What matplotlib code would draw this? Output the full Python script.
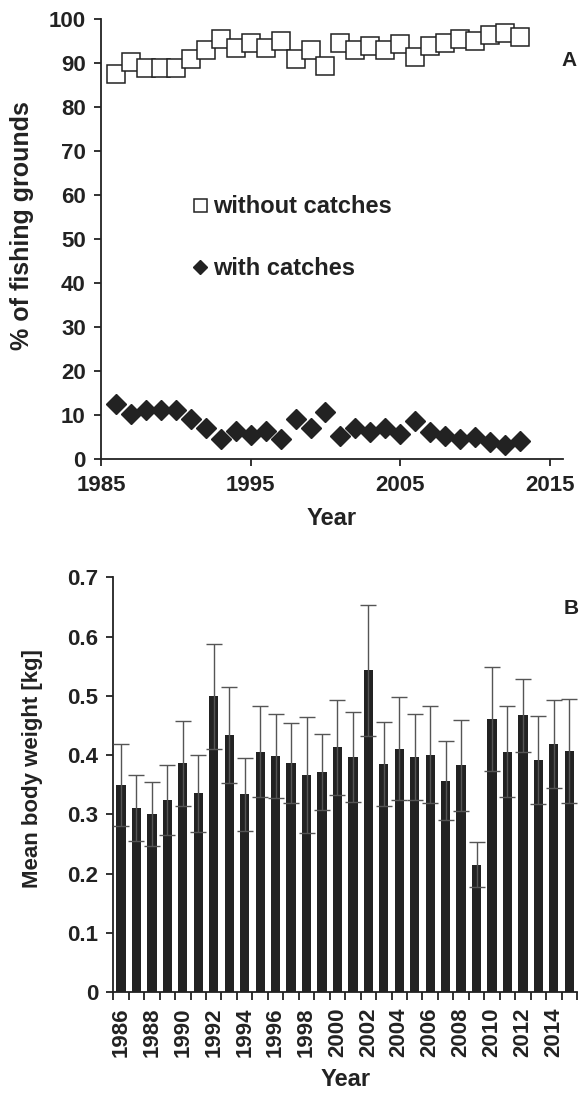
import numpy as np
import matplotlib
matplotlib.use("Agg")
import matplotlib.pyplot as plt

plt.rcParams['font.family'] = ['Liberation Sans', 'DejaVu Sans']
plt.rcParams['font.weight'] = 'bold'

# panel A: share of fishing grounds
years_a = np.arange(1986, 2014)
without_catches = [87.6, 90.2, 88.9, 88.9, 88.9, 91.0, 93.1, 95.6, 93.5, 94.7,
                   93.5, 95.1, 91.0, 93.1, 89.3, 94.7, 93.1, 94.0, 93.1, 94.4,
                   91.5, 94.0, 94.7, 95.6, 95.1, 96.4, 96.8, 96.0]
with_catches = [12.6, 10.3, 11.1, 11.1, 11.1, 9.1, 7.0, 4.5, 6.5, 5.6,
                6.5, 4.7, 9.2, 7.0, 10.8, 5.3, 7.0, 6.2, 7.0, 5.7,
                8.8, 6.2, 5.4, 4.7, 5.1, 3.9, 3.3, 4.2]

# panel B: mean body weight with error
years_b = np.arange(1986, 2016)
weight = [0.349, 0.311, 0.301, 0.324, 0.386, 0.336, 0.499, 0.434, 0.334, 0.406,
          0.398, 0.387, 0.367, 0.371, 0.413, 0.397, 0.543, 0.385, 0.411, 0.397,
          0.401, 0.357, 0.383, 0.215, 0.461, 0.406, 0.467, 0.392, 0.419, 0.407]
weight_err = [0.069, 0.056, 0.054, 0.059, 0.072, 0.065, 0.088, 0.081, 0.062, 0.077,
              0.071, 0.067, 0.098, 0.064, 0.080, 0.076, 0.111, 0.071, 0.087, 0.072,
              0.082, 0.067, 0.077, 0.038, 0.087, 0.077, 0.061, 0.074, 0.074, 0.088]

W, H = 579, 1093
ink = '#222222'
fig = plt.figure(figsize=(W / 100, H / 100), dpi=100)

def style(ax):
    for s in ['top', 'right']:
        ax.spines[s].set_visible(False)
    for s in ['left', 'bottom']:
        ax.spines[s].set_linewidth(1.3)
        ax.spines[s].set_color(ink)
    ax.tick_params(direction='out', length=5, width=1.3, colors=ink,
                   labelsize=16, labelcolor=ink, pad=6)

# ---- A ----
ax1 = fig.add_axes([101 / W, 1 - 459.3 / H, (563 - 101) / W, 440 / H])
style(ax1)
ax1.plot(years_a, without_catches, 's', ms=13, mfc='white', mec=ink,
         mew=1.1, ls='none', label='without catches', clip_on=False)
ax1.plot(years_a, with_catches, 'D', ms=10, mfc=ink, mec=ink,
         ls='none', label='with catches', clip_on=False)
ax1.set_xlim(1985, 2015.87)
ax1.set_ylim(0, 100)
ax1.set_xticks([1985, 1995, 2005, 2015])
ax1.set_yticks(range(0, 101, 10))
ax1.set_xlabel('Year', fontsize=17, fontweight='bold', color=ink, labelpad=8)
ax1.set_ylabel('% of fishing grounds', fontsize=18, fontweight='bold', color=ink)
ax1.yaxis.set_label_coords(-0.145, 0.532)
leg = ax1.legend(loc='upper left', bbox_to_anchor=(0.199, 0.60), frameon=False,
                 fontsize=17, markerscale=0.72, handlelength=0.6,
                 handletextpad=0.25, labelspacing=1.64, borderpad=0,
                 borderaxespad=0)
for t in leg.get_texts():
    t.set_color(ink)
fig.text(569 / W, 1 - 60 / H, 'A', fontsize=15, fontweight='bold',
         ha='center', va='center', color=ink)

# ---- B ----
ax2 = fig.add_axes([113.3 / W, 1 - 992.3 / H, (577 - 113.3) / W, (992.3 - 577.3) / H])
style(ax2)
x = np.arange(len(years_b))
ax2.bar(x, weight, width=0.6, color=ink, zorder=2)
ax2.errorbar(x, weight, yerr=weight_err, fmt='none', ecolor='#555555',
             elinewidth=1, capsize=6, capthick=1, zorder=3)
ax2.set_xlim(-0.5, len(years_b) - 0.5)
ax2.set_ylim(0, 0.7)
ax2.set_yticks(np.arange(0, 0.71, 0.1))
ax2.set_yticklabels(['0'] + ['%.1f' % v for v in np.arange(0.1, 0.71, 0.1)])
ax2.set_xticks(x[::2])
ax2.set_xticklabels([str(y) for y in years_b[::2]], rotation=90)
ax2.set_xticks(np.arange(-0.5, len(years_b), 1), minor=True)
ax2.tick_params(axis='x', which='major', length=0, pad=11)
ax2.tick_params(axis='x', which='minor', length=6, width=1.3, colors=ink)
ax2.set_xlabel('Year', fontsize=17, fontweight='bold', color=ink, labelpad=8)
ax2.set_ylabel('Mean body weight [kg]', fontsize=16, fontweight='bold', color=ink)
ax2.yaxis.set_label_coords(-0.152, 0.540)
fig.text(571 / W, 1 - 608 / H, 'B', fontsize=15, fontweight='bold',
         ha='center', va='center', color=ink)

fig.savefig('out.png', dpi=100)
